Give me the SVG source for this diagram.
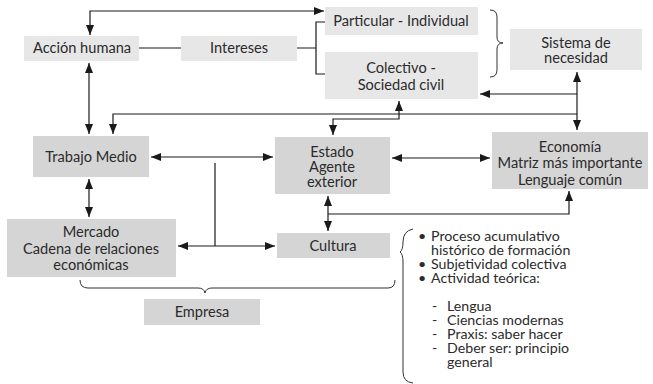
<svg xmlns="http://www.w3.org/2000/svg" width="653" height="384" viewBox="0 0 653 384">
<defs>
<marker id="ah" viewBox="0 0 10 8" refX="10" refY="4" markerWidth="10" markerHeight="8" markerUnits="userSpaceOnUse" orient="auto-start-reverse">
<path d="M0,0 L10,4 L0,8 z" fill="#1a1a1a"/>
</marker>
<style>
.lt{fill:#e7e7e8}
.dk{fill:#d5d5d6}
text{font-family:Lato,"Open Sans","Liberation Sans",sans-serif;font-size:14.6px;fill:#2b2b2b;text-anchor:middle}
.ls{text-anchor:start;font-size:14.2px}
.c{fill:none;stroke:#1a1a1a;stroke-width:1.2}
.b{fill:none;stroke:#333;stroke-width:1}
.a2{marker-start:url(#ah);marker-end:url(#ah)}
.ae{marker-end:url(#ah)}
.as{marker-start:url(#ah)}
</style>
</defs>
<rect width="653" height="384" fill="#fff"/>
<g id="accion"><rect class="lt" x="24" y="36" width="115" height="25"/><text x="82" y="53">Acción humana</text></g>
<g id="intereses"><rect class="lt" x="181" y="36" width="116" height="25"/><text x="239" y="53">Intereses</text></g>
<g id="particular"><rect class="lt" x="325" y="7" width="153" height="28"/><text x="401" y="26">Particular - Individual</text></g>
<g id="colectivo"><rect class="lt" x="325" y="52" width="153" height="47"/><text x="401" y="73">Colectivo -</text><text x="401" y="90">Sociedad civil</text></g>
<g id="sistema"><rect class="lt" x="510" y="29" width="132" height="41"/><text x="576" y="48">Sistema de</text><text x="576" y="63">necesidad</text></g>
<g id="trabajo"><rect class="dk" x="33" y="136" width="116" height="41"/><text x="91" y="162">Trabajo Medio</text></g>
<g id="mercado"><rect class="dk" x="7" y="219" width="169" height="58"/><text x="91" y="237">Mercado</text><text x="91" y="254">Cadena de relaciones</text><text x="91" y="270">económicas</text></g>
<g id="estado"><rect class="dk" x="275" y="137" width="115" height="57"/><text x="332" y="157">Estado</text><text x="332" y="172">Agente</text><text x="332" y="187">exterior</text></g>
<g id="cultura"><rect class="dk" x="277" y="233" width="113" height="25"/><text x="333" y="251">Cultura</text></g>
<g id="economia"><rect class="dk" x="492" y="132" width="156" height="57"/><text x="570" y="152">Economía</text><text x="570" y="168">Matriz más importante</text><text x="570" y="185">Lenguaje común</text></g>
<g id="empresa"><rect class="dk" x="144" y="299" width="116" height="26"/><text x="202" y="317">Empresa</text></g>
<g id="lista">
<text class="ls" x="418" y="241">•</text><text class="ls" x="431" y="241">Proceso acumulativo</text>
<text class="ls" x="431" y="255">histórico de formación</text>
<text class="ls" x="418" y="269">•</text><text class="ls" x="431" y="269">Subjetividad colectiva</text>
<text class="ls" x="418" y="283">•</text><text class="ls" x="431" y="283">Actividad teórica:</text>
<text class="ls" x="432" y="311">-</text><text class="ls" x="447" y="311">Lengua</text>
<text class="ls" x="432" y="325">-</text><text class="ls" x="447" y="325">Ciencias modernas</text>
<text class="ls" x="432" y="339">-</text><text class="ls" x="447" y="339">Praxis: saber hacer</text>
<text class="ls" x="432" y="353">-</text><text class="ls" x="447" y="353">Deber ser: principio</text>
<text class="ls" x="447" y="367">general</text>
</g>
<g id="connectors">
<path class="c a2" d="M90,35 V11 H324"/>
<path class="c" d="M139,48 H181"/>
<path class="c" d="M297,48 H316 M325,22 H316 V74 H325"/>
<path class="c a2" d="M89,63 V134"/>
<path class="c as" d="M113,134 V114 H577"/>
<path class="c a2" d="M577,72 V130"/>
<path class="c ae" d="M577,94 H480"/>
<path class="c a2" d="M333,135 V119 H399 V101"/>
<path class="c a2" d="M151,157 H273"/>
<path class="c" d="M215,163 V246"/>
<path class="c ae" d="M215,246 H275"/>
<path class="c ae" d="M215,246 H178"/>
<path class="c a2" d="M89,179 V217"/>
<path class="c a2" d="M328,196 V231"/>
<path class="c ae" d="M328,214 H569 V191"/>
<path class="c a2" d="M392,158 H490"/>
<path class="b" d="M490,10 Q497,10 497,17 V37 Q497,43 503,43 Q497,43 497,49 V70 Q497,77 490,77"/>
<path class="b" d="M80,280 Q80,288 88,288 H198 Q204,288 205,293 Q206,288 212,288 H388 Q395,288 395,280"/>
<path class="b" d="M413,229 Q403,231 403,242 Q403,250 400,252 Q403,254 403,262 V372 Q403,382 413,383"/>
</g>
</svg>
